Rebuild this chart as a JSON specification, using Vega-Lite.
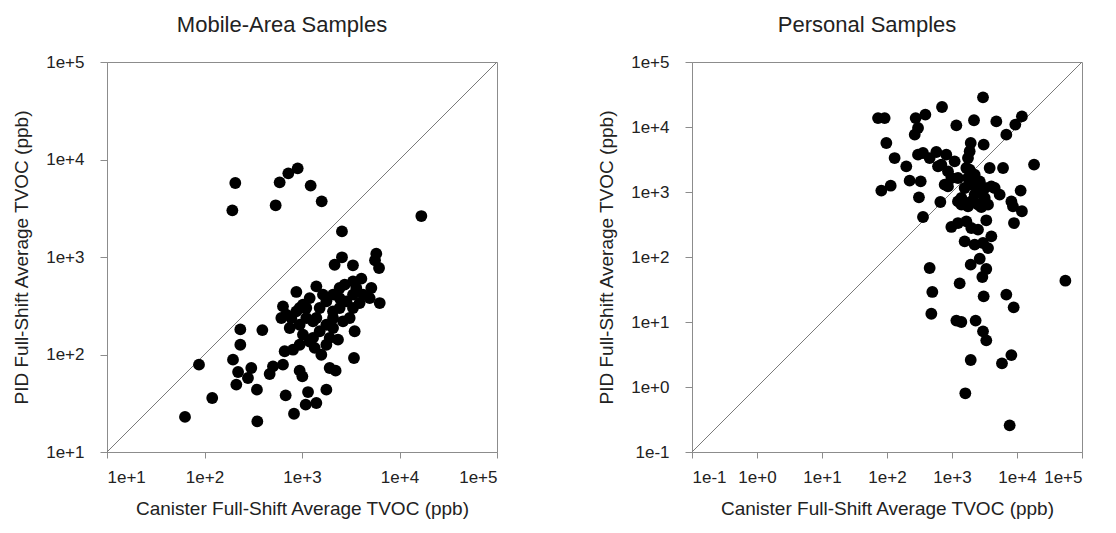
{
  "$schema": "https://vega.github.io/schema/vega-lite/v6.json",
  "background": "white",
  "padding": {"left": 12, "top": 13, "right": 8, "bottom": 8},
  "config": {
    "font": "Liberation Sans",
    "view": {"stroke": "#8c8c8c", "strokeWidth": 1},
    "axis": {"grid": false, "domainColor": "#8c8c8c", "tickColor": "#8c8c8c", "tickSize": 6, "labelFontSize": 17, "labelColor": "#222222", "titleFontSize": 19, "titleFontWeight": "normal", "titleColor": "#222222"},
    "axisX": {"labelPadding": 11, "titlePadding": 14},
    "axisY": {"tickSize": 7, "labelPadding": 16, "titlePadding": 14},
    "title": {"fontSize": 22, "fontWeight": "normal", "color": "#222222", "offset": 16, "dx": -20}
  },
  "datasets": {
    "diag_m": [{"x": 10, "y": 10}, {"x": 100000, "y": 100000}],
    "diag_p": [{"x": 0.1, "y": 0.1}, {"x": 100000, "y": 100000}],
    "mobile": [
      {"x": 207, "y": 5740}, {"x": 193, "y": 3010}, {"x": 590, "y": 5830}, {"x": 724, "y": 7210}, {"x": 903, "y": 8110},
      {"x": 1227, "y": 5400}, {"x": 537, "y": 3390}, {"x": 1592, "y": 3720}, {"x": 16750, "y": 2630}, {"x": 2570, "y": 1830},
      {"x": 5780, "y": 1082}, {"x": 5610, "y": 925}, {"x": 6170, "y": 771}, {"x": 2570, "y": 993}, {"x": 2160, "y": 833},
      {"x": 3330, "y": 822}, {"x": 638, "y": 312}, {"x": 614, "y": 237}, {"x": 748, "y": 187}, {"x": 875, "y": 277},
      {"x": 1023, "y": 324}, {"x": 1199, "y": 379}, {"x": 1403, "y": 500}, {"x": 1518, "y": 300}, {"x": 1778, "y": 351},
      {"x": 2080, "y": 411}, {"x": 2432, "y": 481}, {"x": 2741, "y": 520}, {"x": 3335, "y": 562}, {"x": 4063, "y": 600},
      {"x": 5140, "y": 481}, {"x": 6266, "y": 337}, {"x": 3335, "y": 411}, {"x": 3899, "y": 337}, {"x": 2851, "y": 351},
      {"x": 2432, "y": 300}, {"x": 2080, "y": 237}, {"x": 1778, "y": 202}, {"x": 1518, "y": 173}, {"x": 1297, "y": 219},
      {"x": 1107, "y": 237}, {"x": 946, "y": 202}, {"x": 1023, "y": 160}, {"x": 1199, "y": 136}, {"x": 946, "y": 126},
      {"x": 809, "y": 112}, {"x": 664, "y": 108}, {"x": 1349, "y": 117}, {"x": 1578, "y": 99.5}, {"x": 1923, "y": 148},
      {"x": 2339, "y": 142}, {"x": 2634, "y": 219}, {"x": 3083, "y": 237}, {"x": 3467, "y": 173}, {"x": 2080, "y": 277},
      {"x": 1403, "y": 237}, {"x": 1107, "y": 300}, {"x": 778, "y": 237}, {"x": 2080, "y": 187}, {"x": 3335, "y": 300},
      {"x": 4227, "y": 411}, {"x": 1641, "y": 411}, {"x": 1297, "y": 148}, {"x": 1778, "y": 126}, {"x": 875, "y": 438},
      {"x": 4943, "y": 379}, {"x": 3606, "y": 481}, {"x": 2432, "y": 379}, {"x": 946, "y": 300}, {"x": 691, "y": 256},
      {"x": 233, "y": 181}, {"x": 392, "y": 178}, {"x": 233, "y": 126}, {"x": 196, "y": 88.5}, {"x": 87.8, "y": 78.7},
      {"x": 221, "y": 66.2}, {"x": 302, "y": 72.7}, {"x": 279, "y": 57.4}, {"x": 212, "y": 49.1}, {"x": 345, "y": 43.6},
      {"x": 120, "y": 35.8}, {"x": 466, "y": 63.1}, {"x": 504, "y": 75.6}, {"x": 638, "y": 78.7}, {"x": 946, "y": 68.3},
      {"x": 1008, "y": 59.7}, {"x": 1923, "y": 72.7}, {"x": 2213, "y": 68.3}, {"x": 3412, "y": 92.1}, {"x": 680, "y": 38.1},
      {"x": 1153, "y": 41.2}, {"x": 1778, "y": 43.6}, {"x": 1091, "y": 30.6}, {"x": 1403, "y": 31.8}, {"x": 828, "y": 24.7},
      {"x": 348, "y": 20.6}, {"x": 63.1, "y": 22.9}
    ],
    "personal": [
      {"x": 3000, "y": 28600}, {"x": 702, "y": 20300}, {"x": 72.8, "y": 13700}, {"x": 92, "y": 13700}, {"x": 276, "y": 13700},
      {"x": 389, "y": 15500}, {"x": 300, "y": 9660}, {"x": 267, "y": 7620}, {"x": 1167, "y": 10600}, {"x": 2180, "y": 12700},
      {"x": 4810, "y": 12200}, {"x": 9420, "y": 10900}, {"x": 11900, "y": 14600}, {"x": 6850, "y": 7620}, {"x": 97.7, "y": 5670},
      {"x": 1940, "y": 5670}, {"x": 3070, "y": 5350}, {"x": 131, "y": 3330}, {"x": 198, "y": 2480}, {"x": 300, "y": 3750},
      {"x": 358, "y": 3980}, {"x": 453, "y": 3330}, {"x": 574, "y": 4120}, {"x": 818, "y": 3750}, {"x": 1098, "y": 2960},
      {"x": 685, "y": 2640}, {"x": 867, "y": 2080}, {"x": 977, "y": 1640}, {"x": 867, "y": 1220}, {"x": 1236, "y": 1640},
      {"x": 1662, "y": 2340}, {"x": 1762, "y": 3330}, {"x": 1870, "y": 4230}, {"x": 2233, "y": 1850}, {"x": 1982, "y": 1297},
      {"x": 3795, "y": 2340}, {"x": 6100, "y": 2340}, {"x": 18300, "y": 2640}, {"x": 223, "y": 1494}, {"x": 330, "y": 1459},
      {"x": 81.8, "y": 1050}, {"x": 114, "y": 1250}, {"x": 310, "y": 828}, {"x": 662, "y": 702}, {"x": 358, "y": 412},
      {"x": 1393, "y": 809}, {"x": 1982, "y": 717}, {"x": 2512, "y": 1023}, {"x": 3184, "y": 1153}, {"x": 4530, "y": 1153},
      {"x": 5410, "y": 910}, {"x": 2512, "y": 638}, {"x": 3580, "y": 638}, {"x": 3184, "y": 809}, {"x": 1393, "y": 638},
      {"x": 2233, "y": 910}, {"x": 1566, "y": 1153}, {"x": 1236, "y": 717}, {"x": 11380, "y": 1050}, {"x": 8190, "y": 717},
      {"x": 8670, "y": 601}, {"x": 11900, "y": 505}, {"x": 8990, "y": 333}, {"x": 3370, "y": 367}, {"x": 977, "y": 290},
      {"x": 1236, "y": 333}, {"x": 1662, "y": 354}, {"x": 1982, "y": 279}, {"x": 2512, "y": 264}, {"x": 1566, "y": 174},
      {"x": 2233, "y": 155}, {"x": 3000, "y": 164}, {"x": 4030, "y": 208}, {"x": 3580, "y": 137}, {"x": 1940, "y": 76.2},
      {"x": 2670, "y": 94}, {"x": 3370, "y": 65.3}, {"x": 2930, "y": 49.2}, {"x": 453, "y": 67.8}, {"x": 1312, "y": 39.3},
      {"x": 55500, "y": 43.2}, {"x": 498, "y": 29}, {"x": 3070, "y": 24.8}, {"x": 6850, "y": 26.4}, {"x": 8890, "y": 16.8},
      {"x": 481, "y": 13.4}, {"x": 1167, "y": 10.5}, {"x": 1393, "y": 10}, {"x": 2310, "y": 10.5}, {"x": 3000, "y": 7.18},
      {"x": 3370, "y": 5.22}, {"x": 1940, "y": 2.6}, {"x": 5870, "y": 2.31}, {"x": 8190, "y": 3.1}, {"x": 1603, "y": 0.8},
      {"x": 7710, "y": 0.257}, {"x": 609, "y": 2480}, {"x": 771, "y": 1297}, {"x": 1762, "y": 1640}, {"x": 1870, "y": 2210},
      {"x": 2670, "y": 1459}, {"x": 4030, "y": 1220}, {"x": 1762, "y": 601}, {"x": 2825, "y": 585}
    ]
  },
  "spacing": 195,
  "bounds": "flush",
  "hconcat": [
    {
      "width": 390,
      "height": 390,
      "title": "Mobile-Area Samples",
      "layer": [
        {
          "data": {"name": "diag_m"},
          "mark": {"type": "line", "color": "#7a7a7a", "strokeWidth": 1},
          "encoding": {
            "x": {"field": "x", "type": "quantitative", "scale": {"type": "log", "domain": [10, 100000], "nice": false}},
            "y": {"field": "y", "type": "quantitative", "scale": {"type": "log", "domain": [10, 100000], "nice": false}}
          }
        },
        {
          "data": {"name": "mobile"},
          "mark": {"type": "circle", "color": "#000000", "size": 140, "opacity": 1},
          "encoding": {
            "x": {"field": "x", "type": "quantitative", "scale": {"type": "log", "domain": [10, 100000], "nice": false},
              "axis": {"title": "Canister Full-Shift Average TVOC (ppb)", "values": [10, 100, 1000, 10000, 100000],
                "labelExpr": "(datum.value >= 1 ? '1e+' : '1e') + round(log(datum.value) / LN10)"}},
            "y": {"field": "y", "type": "quantitative", "scale": {"type": "log", "domain": [10, 100000], "nice": false},
              "axis": {"title": "PID Full-Shift Average TVOC (ppb)", "values": [10, 100, 1000, 10000, 100000],
                "labelExpr": "(datum.value >= 1 ? '1e+' : '1e') + round(log(datum.value) / LN10)"}}
          }
        }
      ]
    },
    {
      "width": 390,
      "height": 390,
      "title": "Personal Samples",
      "layer": [
        {
          "data": {"name": "diag_p"},
          "mark": {"type": "line", "color": "#7a7a7a", "strokeWidth": 1},
          "encoding": {
            "x": {"field": "x", "type": "quantitative", "scale": {"type": "log", "domain": [0.1, 100000], "nice": false}},
            "y": {"field": "y", "type": "quantitative", "scale": {"type": "log", "domain": [0.1, 100000], "nice": false}}
          }
        },
        {
          "data": {"name": "personal"},
          "mark": {"type": "circle", "color": "#000000", "size": 140, "opacity": 1},
          "encoding": {
            "x": {"field": "x", "type": "quantitative", "scale": {"type": "log", "domain": [0.1, 100000], "nice": false},
              "axis": {"title": "Canister Full-Shift Average TVOC (ppb)", "values": [0.1, 1, 10, 100, 1000, 10000, 100000],
                "labelExpr": "(datum.value >= 1 ? '1e+' : '1e') + round(log(datum.value) / LN10)"}},
            "y": {"field": "y", "type": "quantitative", "scale": {"type": "log", "domain": [0.1, 100000], "nice": false},
              "axis": {"title": "PID Full-Shift Average TVOC (ppb)", "values": [0.1, 1, 10, 100, 1000, 10000, 100000],
                "labelExpr": "(datum.value >= 1 ? '1e+' : '1e') + round(log(datum.value) / LN10)"}}
          }
        }
      ]
    }
  ]
}
